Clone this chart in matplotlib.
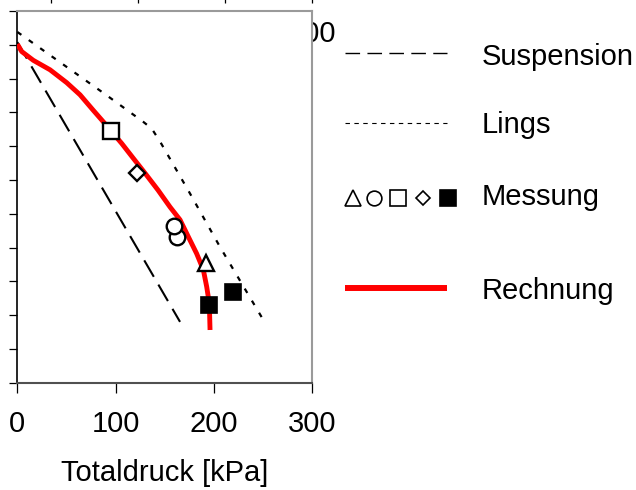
import matplotlib
matplotlib.use("Agg")
import matplotlib.pyplot as plt
from matplotlib.lines import Line2D

plt.rcParams['font.family'] = ['Liberation Sans', 'DejaVu Sans']
plt.rcParams['lines.scale_dashes'] = False

# Rechnung (red curve)
rechnung_x = [0, 4.5, 16.3, 33.3, 50.2, 63.8, 77.3, 87.5, 106.2, 118.0, 129.9, 143.1,
              155.3, 165.5, 173.9, 182.4, 189.2, 192.6, 195.3, 196.0]
rechnung_y = [0.49, 0.60, 0.73, 0.87, 1.06, 1.24, 1.47, 1.64, 1.96, 2.18, 2.40, 2.65,
              2.90, 3.09, 3.34, 3.59, 3.83, 4.08, 4.33, 4.72]

# Suspension (dashed straight line)
susp_x = [0, 165.5]
susp_y = [0.46, 4.60]

# Lings (dotted)
lings_x = [0, 89.2, 128.1, 136.7, 145.1, 175.6, 206.1, 248.5]
lings_y = [0.31, 1.23, 1.64, 1.74, 1.93, 2.70, 3.49, 4.53]

# Messung
m_square = (95.1, 1.78)
m_diamond = (122.0, 2.39)
m_circles_x = [162.7, 159.4]
m_circles_y = [3.34, 3.18]
m_triangle = (191.4, 3.73)
m_filled_x = [195.2, 219.7]
m_filled_y = [4.35, 4.16]

xticks = [0, 100, 200, 300]

W, H = 636, 490
fig = plt.figure(figsize=(W / 100, H / 100), dpi=100)


def fx(px):
    return px / W


def fy(py):
    return 1 - py / H


ax = fig.add_axes([fx(17.3), fy(382.7), fx(312.3) - fx(17.3), fy(11) - fy(382.7)])
ax.set_xlim(0, 300)
ax.set_ylim(5.5, 0)
ax.set_xticks(xticks)
ax.set_xticklabels([str(t) for t in xticks], fontsize=21)
ax.set_yticks([i * 0.5 for i in range(12)])
ax.set_yticklabels([])
ax.tick_params(axis='x', direction='out', length=7, width=0.9, pad=13)
ax.tick_params(axis='y', direction='out', length=5.5, width=0.9)
ax.set_xlabel('Totaldruck [kPa]', fontsize=21, labelpad=15)

ax.spines['left'].set_color('black')
ax.spines['left'].set_linewidth(1.2)
ax.spines['bottom'].set_color('#505050')
ax.spines['bottom'].set_linewidth(1.5)
ax.spines['top'].set_color('#9a9a9a')
ax.spines['top'].set_linewidth(1.5)
ax.spines['right'].set_color('#9a9a9a')
ax.spines['right'].set_linewidth(1.5)

ax.plot(susp_x, susp_y, color='black', lw=1.5, dashes=(13.7, 6.5), zorder=2)
ax.plot(lings_x, lings_y, color='black', lw=1.6, dashes=(3.6, 6.5), zorder=2)
ax.plot(rechnung_x, rechnung_y, color='#ff0000', lw=3.5, solid_capstyle='butt',
        solid_joinstyle='round', zorder=3)

mk = dict(linestyle='none', markerfacecolor='white', markeredgecolor='black', markeredgewidth=1.7, zorder=4)
ax.plot([m_square[0]], [m_square[1]], marker='s', markersize=12.2, **mk)
ax.plot([m_diamond[0]], [m_diamond[1]], marker='D', markersize=8.6, **mk)
ax.plot(m_circles_x, m_circles_y, marker='o', markersize=11.2, **mk)
ax.plot([m_triangle[0]], [m_triangle[1]], marker='^', markersize=12.2, **mk)
ax.plot(m_filled_x, m_filled_y, marker='s', markersize=11.5, linestyle='none',
        color='black', markeredgewidth=1.2, zorder=4)

# ticks of the axis above (cropped off)
top = fig.add_axes([fx(17.3), fy(3.5), fx(312.3) - fx(17.3), 0.001])
top.set_xlim(-38.3, 300)
top.set_xticks(xticks)
top.set_xticklabels([])
top.set_yticks([])
top.tick_params(axis='x', direction='in', length=3.5, width=0.9)
for s in top.spines.values():
    s.set_visible(False)
top.patch.set_visible(False)

# label partly hidden behind the plot area
fig.text(fx(336), fy(34), '300', fontsize=21, ha='right', va='center', zorder=-1)

# legend
def leg_line(py, **kw):
    fig.add_artist(Line2D([fx(345), fx(447)], [fy(py), fy(py)], transform=fig.transFigure, **kw))


leg_line(53.3, color='black', lw=1.0, dashes=(10.5, 5.3))
leg_line(123.3, color='black', lw=0.8, dashes=(3.2, 3.2))
leg_line(288.3, color='#ff0000', lw=4.3, solid_capstyle='butt')

leg_mk = [('^', 353, 12.0), ('o', 374, 10.6), ('s', 398.3, 11.0), ('D', 422.5, 7.6), ('s', 448.3, 11.0)]
for i, (m, px, ms) in enumerate(leg_mk):
    face = 'black' if i == 4 else 'white'
    fig.add_artist(Line2D([fx(px)], [fy(198.3)], transform=fig.transFigure, marker=m,
                          markersize=ms, markerfacecolor=face, markeredgecolor='black',
                          markeredgewidth=1.2, linestyle='none'))

labels = [('Suspension', 65), ('Lings', 133.3), ('Messung', 205), ('Rechnung', 299.3)]
for txt, py in labels:
    fig.text(fx(481.7), fy(py), txt, fontsize=21, ha='left', va='baseline')

fig.savefig('out.png', dpi=100)
